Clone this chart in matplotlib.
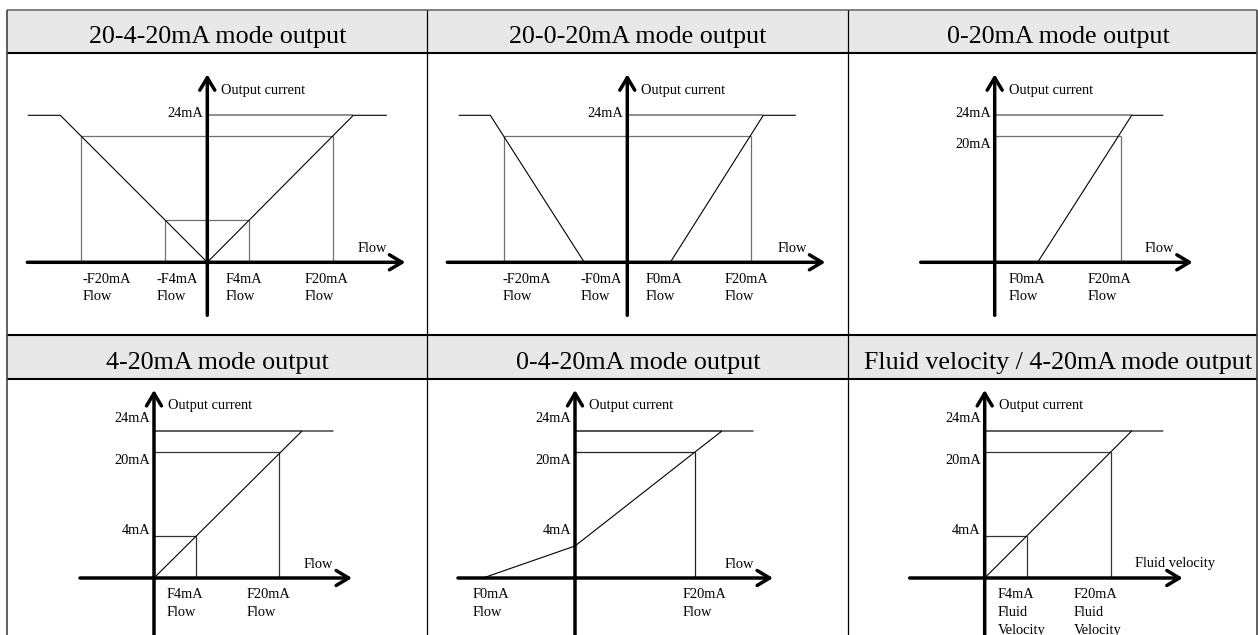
import numpy as np
import matplotlib
matplotlib.use('Agg')
import matplotlib.pyplot as plt
from matplotlib.patches import Rectangle

plt.rcParams['font.family'] = ['Liberation Serif', 'DejaVu Serif']

W, H = 1258, 635
nan = np.nan

# schematic current levels (drawn height above the flow axis)
lvl_24, lvl_20, lvl_4 = 147, 126, 42

titles = ["20-4-20mA mode output", "20-0-20mA mode output", "0-20mA mode output",
          "4-20mA mode output", "0-4-20mA mode output",
          "Fluid velocity / 4-20mA mode output"]

# 20-4-20mA
p1_x = [-179, -147, 0, 146, 179]
p1_y = [lvl_24, lvl_24, 0, lvl_24, lvl_24]
p1_guides = [(-126, lvl_20), (126, lvl_20), (-42, lvl_4), (42, lvl_4)]
p1_ylabels = [("24mA", 149)]
p1_xlabels = ["-F20mA\nFlow", "-F4mA\nFlow", "F4mA\nFlow", "F20mA\nFlow"]

# 20-0-20mA
p2_x = [-168, -137, -43, nan, 43, 136, 168]
p2_y = [lvl_24, lvl_24, 0, nan, 0, lvl_24, lvl_24]
p2_guides = [(-123, lvl_20), (124, lvl_20)]
p2_ylabels = [("24mA", 149)]
p2_xlabels = ["-F20mA\nFlow", "-F0mA\nFlow", "F0mA\nFlow", "F20mA\nFlow"]

# 0-20mA
p3_x = [43, 137, 168]
p3_y = [0, lvl_24, lvl_24]
p3_guides = [(126, lvl_20)]
p3_ylabels = [("24mA", 149), ("20mA", 118)]
p3_xlabels = ["F0mA\nFlow", "F20mA\nFlow"]

# 4-20mA
p4_x = [0, 148, 179]
p4_y = [0, lvl_24, lvl_24]
p4_guides = [(125, lvl_20), (42, lvl_4)]
p4_ylabels = [("24mA", 160), ("20mA", 118), ("4mA", 47)]
p4_xlabels = ["F4mA\nFlow", "F20mA\nFlow"]

# 0-4-20mA
p5_x = [-92, 0, 120, 147, 178]
p5_y = [0, 32, lvl_20, lvl_24, lvl_24]
p5_guides = [(120, lvl_20)]
p5_ylabels = [("24mA", 160), ("20mA", 118), ("4mA", 47)]
p5_xlabels = ["F0mA\nFlow", "F20mA\nFlow"]

# fluid velocity 4-20mA
p6_x = [0, 147, 178]
p6_y = [0, lvl_24, lvl_24]
p6_guides = [(126, lvl_20), (42, lvl_4)]
p6_ylabels = [("24mA", 160), ("20mA", 118), ("4mA", 47)]
p6_xlabels = ["F4mA\nFluid\nVelocity", "F20mA\nFluid\nVelocity"]

SMALL = 10.4
BIG = 18.7

fig = plt.figure(figsize=(W / 100, H / 100), dpi=100)

# table frame, pixel coordinates
bg = fig.add_axes([0, 0, 1, 1])
bg.set_xlim(0, W)
bg.set_ylim(H, 0)
bg.axis('off')
for y0, y1 in [(10, 53), (335, 379)]:
    bg.add_patch(Rectangle((7, y0), 1250, y1 - y0, facecolor='#e8e8e8', edgecolor='none'))
bg.hlines(10, 7, 1257, color='#777777', lw=1.3)
bg.hlines([53, 335, 379], 7, 1257, color='black', lw=1.5)
bg.vlines(7, 10, H, color='#444444', lw=1.2)
bg.vlines([427, 848], 10, H, color='black', lw=0.9)
bg.vlines(1257, 10, H, color='#444444', lw=1.2)

title_x = [217.5, 638, 1058]
for i, t in enumerate(titles):
    ty = 42.5 if i < 3 else 368.5
    bg.text(title_x[i % 3], ty, t, fontsize=BIG, ha='center', va='baseline')


def draw_panel(ox, oy, cx, cy, guides, ylabels, xlabels, xlab_pos, xmin, ymin,
               xname='Flow', ref_col='#707070'):
    ax = fig.add_axes([(ox - 200) / W, (H - (oy + 60)) / H, 410 / W, 260 / H])
    ax.set_xlim(-200, 210)
    ax.set_ylim(-60, 200)
    ax.axis('off')
    # 24mA reference runs from the axis to where the curve saturates
    sat = min(x for x, y in zip(cx, cy) if y == lvl_24 and x > 0)
    ax.hlines(lvl_24, 0, sat, color=ref_col, lw=1.1)
    for fx, lv in guides:
        ax.hlines(lv, 0, fx, color=ref_col, lw=0.9)
        ax.vlines(fx, 0, lv, color=ref_col, lw=0.9)
    ax.plot(cx, cy, color='black', lw=0.8)
    arrow = dict(arrowstyle='->,head_length=0.45,head_width=0.27', lw=2.5,
                 color='black', shrinkA=0, shrinkB=0, mutation_scale=20)
    ax.annotate('', xy=(198, 0), xytext=(xmin, 0), arrowprops=arrow)
    ax.annotate('', xy=(0, 188), xytext=(0, ymin), arrowprops=arrow)
    ax.text(14, 172, "Output current", fontsize=SMALL, ha='left', va='center')
    ax.text(150, 14, xname, fontsize=SMALL, ha='left', va='center')
    for txt, ly in ylabels:
        ax.text(-4, ly, txt, fontsize=SMALL, ha='right', va='center')
    for txt, lx in zip(xlabels, xlab_pos):
        for k, line in enumerate(txt.split('\n')):
            ax.text(lx, -17 - 17.6 * k, line, fontsize=SMALL, ha='left', va='center')
    return ax


draw_panel(207.3, 262.3, p1_x, p1_y, p1_guides, p1_ylabels, p1_xlabels,
           [-125, -51, 18, 97], -180, -53)
draw_panel(627.3, 262.3, p2_x, p2_y, p2_guides, p2_ylabels, p2_xlabels,
           [-125, -47, 18, 97], -180, -53)
draw_panel(994.7, 262.3, p3_x, p3_y, p3_guides, p3_ylabels, p3_xlabels,
           [14, 93], -74, -53)
draw_panel(154, 578, p4_x, p4_y, p4_guides, p4_ylabels, p4_xlabels,
           [13, 93], -74, -60, ref_col='#333333')
draw_panel(575, 578, p5_x, p5_y, p5_guides, p5_ylabels, p5_xlabels,
           [-102, 108], -117, -60, ref_col='#222222')
draw_panel(984.7, 578, p6_x, p6_y, p6_guides, p6_ylabels, p6_xlabels,
           [13, 89], -75, -60, xname='Fluid velocity', ref_col='#333333')

fig.savefig('out.png', dpi=100)
